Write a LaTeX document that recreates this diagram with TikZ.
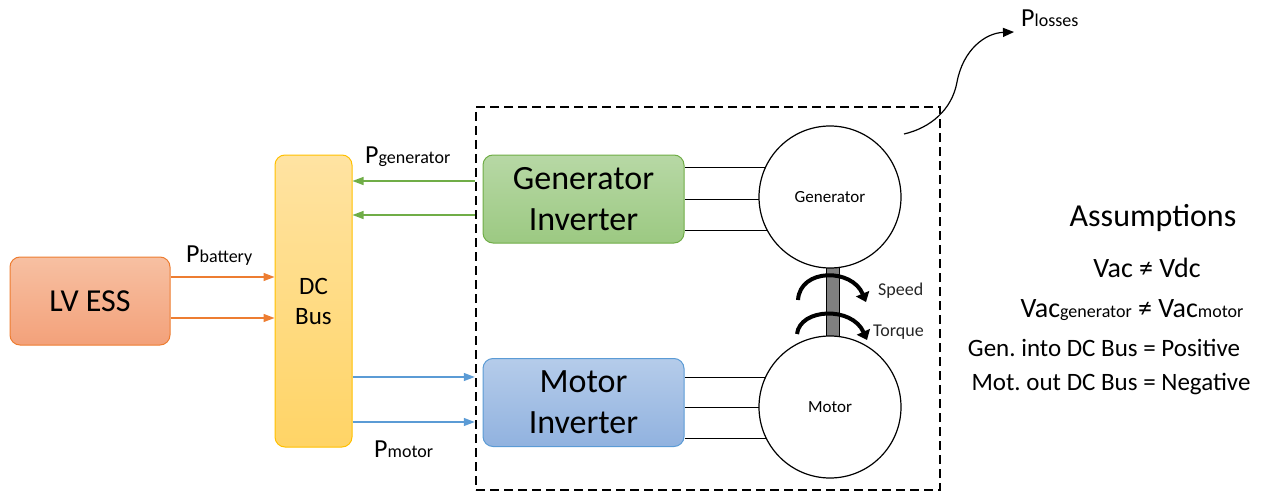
\documentclass[tikz,border=0pt]{standalone}
\usepackage{fontspec}
\setmainfont{Carlito}
\usetikzlibrary{arrows.meta,backgrounds}
\frenchspacing
\definecolor{essb}{HTML}{ED7D31}\definecolor{esst}{HTML}{F7C0A2}\definecolor{essbt}{HTML}{F3A17A}
\definecolor{busb}{HTML}{FFC000}\definecolor{bust}{HTML}{FFE3A2}\definecolor{busbt}{HTML}{FFD466}
\definecolor{grb}{HTML}{70AD47}\definecolor{grt}{HTML}{B7D8A5}\definecolor{grbt}{HTML}{9CC982}
\definecolor{blb}{HTML}{5B9BD5}\definecolor{blt}{HTML}{B5CCEA}\definecolor{blbt}{HTML}{91B2DF}
\definecolor{txtg}{HTML}{262626}
\newcommand{\fs}[1]{\fontsize{#1}{\the\numexpr#1*6/5\relax}\selectfont}
\tikzset{
  box/.style={draw, rounded corners=10, line width=1, align=center, inner sep=0},
  mach/.style={draw, circle, line width=1.2, fill=white, minimum size=142, inner sep=0},
  pw/.style={line width=1.2, -{Triangle[length=11,width=8]}},
  rot/.style={line width=4, -{Triangle[length=9,width=14]}},
  lab/.style={anchor=base west, inner sep=0},
}
\begin{document}
\begin{tikzpicture}[x=1pt,y=-1pt]
\useasboundingbox (0,0) rectangle (1263,492);
% boxes
\node[box, draw=essb, top color=esst, bottom color=essbt, minimum width=160, minimum height=88, font=\fs{32}] (ess) at (90,301) {LV ESS};
\node[box, draw=busb, top color=bust, bottom color=busbt, minimum width=77, minimum height=292, font=\fs{25}] (bus) at (313.5,301) {DC\\Bus};
\node[box, draw=grb, top color=grt, bottom color=grbt, minimum width=201, minimum height=88, font=\fs{34}] (gi) at (583.5,199) {Generator\\Inverter};
\node[box, draw=blb, top color=blt, bottom color=blbt, minimum width=201, minimum height=88, font=\fs{34}] (mi) at (583.5,402.5) {Motor\\Inverter};
\node[draw, line width=2.5, dash pattern=on 9 off 5, minimum width=464, minimum height=383, inner sep=0] (sys) at (708,298.5) {};
% machines
\node[mach, font=\fs{17}] (gen) at (830,197) {Generator};
\node[mach, font=\fs{17}] (mot) at (830,407) {Motor};
\begin{scope}[on background layer]
  \foreach \y in {167,199,230} \draw[line width=1] (gi.east |- 0,\y) -- (gen.center |- 0,\y);
  \foreach \y in {377,407,438} \draw[line width=1] (mi.east |- 0,\y) -- (mot.center |- 0,\y);
  \node[draw, line width=1, fill=black!50, minimum width=13, minimum height=80, inner sep=0] (shaft) at (832.5,301) {};
\end{scope}
% rotation arrows
\coordinate (s1) at (798,300); \coordinate (s2) at (866,302);
\coordinate (t1) at (797,334); \coordinate (t2) at (867,340);
\draw[rot] (s1) .. controls (800,268) and (852,268) .. (s2);
\draw[rot] (t1) .. controls (800,308) and (852,306) .. (t2);
\node[lab, text=txtg, font=\fs{18}] (speed) at (878,295) {Speed};
\node[lab, text=txtg, font=\fs{18}] (torque) at (873,336) {Torque};
% power arrows
\draw[pw, color=essb] (ess.east |- 0,277) -- (bus.west |- 0,277);
\draw[pw, color=essb] (ess.east |- 0,318) -- (bus.west |- 0,318);
\draw[pw, color=grb] (sys.west |- 0,181) -- (bus.east |- 0,181);
\draw[pw, color=grb] (sys.west |- 0,215) -- (bus.east |- 0,215);
\draw[pw, color=blb] (bus.east |- 0,377) -- (sys.west |- 0,377);
\draw[pw, color=blb] (bus.east |- 0,422) -- (sys.west |- 0,422);
% labels
\node[lab] (pbat) at (186,262) {\fs{26}P\fs{18}battery};
\node[lab] (pgen) at (365,163) {\fs{26}P\fs{18}generator};
\node[lab] (pmot) at (374,457) {\fs{26}P\fs{18}motor};
\node[lab] (ploss) at (1021,27) {\fs{26}P\fs{18}losses};
% losses arrow
\coordinate (l0) at (904,134); \coordinate (l1) at (1014,32);
\draw[line width=1.2, -{Triangle[length=11,width=9]}] (l0) .. controls (930,128) and (952,110) .. (957,82) .. controls (963,50) and (985,33) .. (l1);
% assumptions
\node[inner sep=0] (asm) at (1153,218) {\fs{32}Assumptions};
\node[inner sep=0] (a1) at (1147,268) {\fs{28}Vac ≠ Vdc};
\node[inner sep=0] (a2) at (1132,310) {\fs{28}Vac\fs{18}generator\fs{28} ≠ Vac\fs{18}motor};
\node[inner sep=0] (a3) at (1104,348) {\fs{25}Gen. into DC Bus = Positive};
\node[inner sep=0] (a4) at (1111,384) {\fs{25}Mot. out DC Bus = Negative};
\end{tikzpicture}
\end{document}
